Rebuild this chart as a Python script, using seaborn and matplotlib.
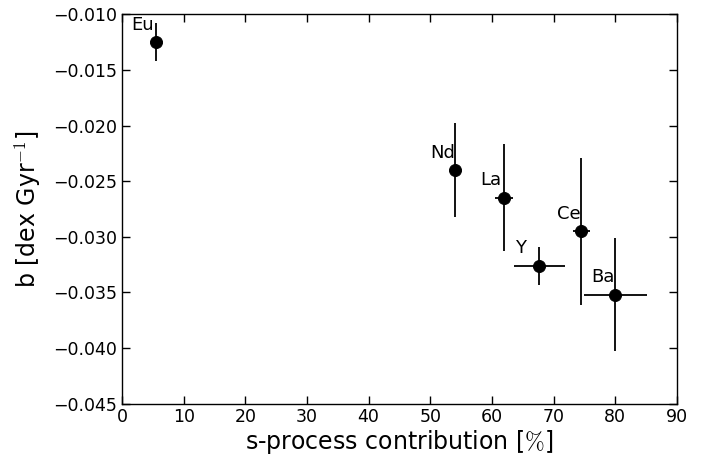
import matplotlib
matplotlib.use("Agg")
import matplotlib.pyplot as plt
import seaborn as sns
import pandas as pd

elements = ["Eu", "Nd", "La", "Y", "Ce", "Ba"]
s_contrib = [5.5, 54.0, 62.0, 67.7, 74.5, 80.0]
s_err = [0.3, 0.3, 1.5, 4.1, 1.4, 5.1]
slope_b = [-0.0125, -0.0240, -0.0265, -0.0326, -0.0295, -0.0352]
slope_err = [0.0017, 0.0042, 0.0048, 0.0017, 0.0066, 0.0051]

df = pd.DataFrame({"el": elements, "x": s_contrib, "xe": s_err,
                   "y": slope_b, "ye": slope_err})

sns.set_style("white")
plt.rcParams.update({
    "xtick.direction": "in", "ytick.direction": "in",
    "xtick.top": True, "ytick.right": True,
    "xtick.bottom": True, "ytick.left": True,
    "xtick.major.size": 6, "ytick.major.size": 6,
    "xtick.major.width": 1.0, "ytick.major.width": 1.0,
    "axes.edgecolor": "black", "axes.linewidth": 1.0,
    "text.color": "black", "axes.labelcolor": "black",
    "xtick.color": "black", "ytick.color": "black",
    "mathtext.fontset": "cm",
})
plt.rcParams["font.family"] = ["DejaVu Sans"]

fig = plt.figure(figsize=(7.08, 4.57), dpi=100)
ax = fig.add_axes([0.1723, 0.117, 0.7837, 0.8517])

ax.errorbar(df["x"], df["y"], xerr=df["xe"], yerr=df["ye"], fmt="none",
            ecolor="black", elinewidth=1.3, capsize=0)
sns.scatterplot(data=df, x="x", y="y", ax=ax, color="black", s=75,
                edgecolor="black", zorder=3, legend=False)

for el, x, y in zip(df["el"], df["x"], df["y"]):
    ax.annotate(el, (x, y), xytext=(-17.5, 6), textcoords="offset points",
                ha="left", va="bottom", fontsize=13, color="black")

ax.set_xlim(0, 90)
ax.set_ylim(-0.045, -0.010)
ax.set_xticks(range(0, 91, 10))
ax.set_yticks([-0.045, -0.040, -0.035, -0.030, -0.025, -0.020, -0.015, -0.010])
ax.set_yticklabels([f"\u2212{abs(v):.3f}" for v in ax.get_yticks()])
ax.tick_params(labelsize=12.5, colors="black")
for s in ax.spines.values():
    s.set_visible(True)
    s.set_color("black")
ax.set_xlabel(r"s-process contribution [$\%$]", fontsize=17, labelpad=1)
ax.set_ylabel(r"b [dex Gyr$^{-1}$]", fontsize=17, labelpad=7)

fig.savefig("out.png", dpi=100)
